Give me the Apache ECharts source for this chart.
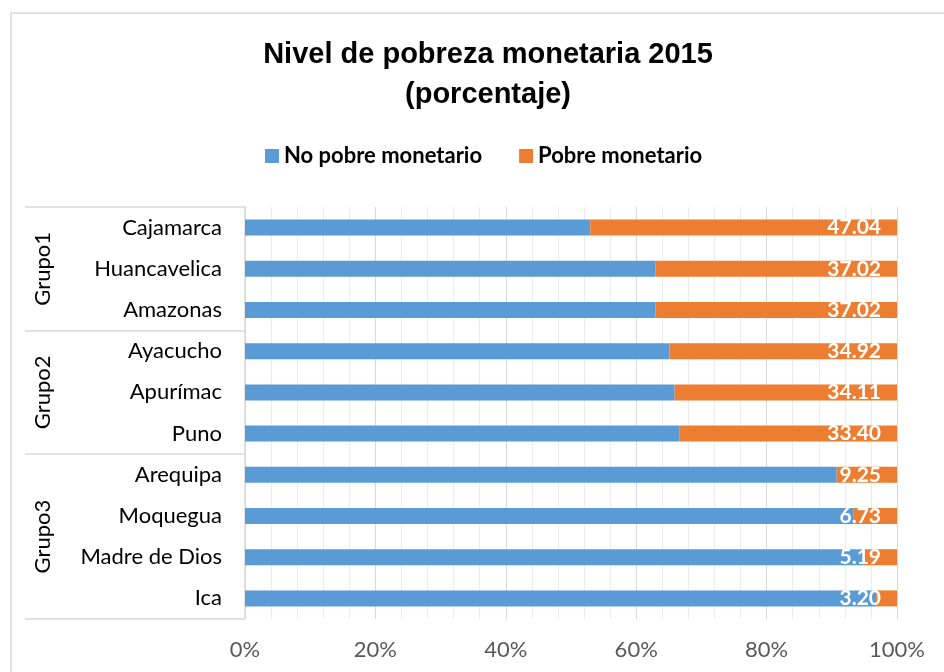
<!DOCTYPE html>
<html>
<head>
<meta charset="utf-8">
<script src="https://cdn.jsdelivr.net/npm/echarts@6/dist/echarts.min.js"></script>
<style>
  html, body { margin: 0; padding: 0; background: #fff; }
  #chart { width: 944px; height: 672px; }
</style>
</head>
<body>
<div id="chart"></div>
<script>
// data, top to bottom as in the picture
const regions = ["Cajamarca", "Huancavelica", "Amazonas", "Ayacucho", "Apurímac", "Puno",
                 "Arequipa", "Moquegua", "Madre de Dios", "Ica"];
const groups = ["Grupo1", "Grupo2", "Grupo3"];
const groupSizes = [3, 3, 4];
const noPobre = [52.96, 62.98, 62.98, 65.08, 65.89, 66.60, 90.75, 93.27, 94.81, 96.80];
const pobre = [47.04, 37.02, 37.02, 34.92, 34.11, 33.40, 9.25, 6.73, 5.19, 3.20];
const xTicks = [0, 20, 40, 60, 80, 100];

const font = "Lato, 'Open Sans', sans-serif";

// group axis: one slot per region so ticks fall on region boundaries
const groupData = [];
groups.forEach((g, i) => {
    for (let k = 0; k < groupSizes[i]; k++) groupData.push(g + "#" + k);
});

var chart = echarts.init(document.getElementById("chart"));

const option = {
    animation: false,
    title: {
        text: "Nivel de pobreza monetaria 2015\n(porcentaje)",
        left: 483,
        textAlign: "center",
        top: 30,
        textStyle: {
            fontFamily: "'Liberation Sans Narrow', 'Arial Narrow', 'Liberation Sans', sans-serif",
            fontSize: 29,
            fontWeight: "bold",
            color: "#000",
            lineHeight: 40
        }
    },
    legend: {
        data: ["No pobre monetario", "Pobre monetario"],
        top: 140,
        left: 260,
        icon: "rect",
        itemWidth: 14,
        itemHeight: 14,
        itemGap: 37,
        textStyle: { fontFamily: font, fontSize: 22, fontWeight: "bold", color: "#000" }
    },
    grid: { left: 245, right: 47, top: 207, bottom: 53 },
    xAxis: {
        type: "value",
        min: 0,
        max: 100,
        interval: 20,
        axisLine: { show: false },
        axisTick: { show: false },
        minorTick: { show: false, splitNumber: 5 },
        minorSplitLine: { show: true, lineStyle: { color: "#ececec", width: 1 } },
        splitLine: { lineStyle: { color: "#d9d9d9", width: 1 } },
        axisLabel: {
            formatter: v => (xTicks.includes(v) ? v + "%" : ""),
            fontFamily: font,
            fontSize: 22,
            color: "#595959",
            margin: 20
        }
    },
    yAxis: [
        {
            type: "category",
            data: regions,
            inverse: true,
            axisLine: { show: false },
            axisTick: { show: false },
            axisLabel: { fontFamily: font, fontSize: 22, color: "#000", margin: 23 }
        },
        {
            type: "category",
            data: groupData,
            inverse: true,
            position: "left",
            axisLine: { show: true, lineStyle: { color: "#d9d9d9", width: 1.5 } },
            axisTick: {
                show: true,
                length: 220,
                interval: (idx) => {
                    // boundaries between groups only
                    let acc = 0;
                    for (let i = 0; i < groupSizes.length; i++) {
                        if (idx === acc) return true;
                        acc += groupSizes[i];
                    }
                    return false;
                },
                lineStyle: { color: "#d9d9d9", width: 1.5 }
            },
            axisLabel: { show: false }
        }
    ],
    graphic: [
        {
            type: "rect",
            shape: { x: 11, y: 13, width: 1000, height: 700 },
            style: { fill: "none", stroke: "#d9d9d9", lineWidth: 1.5 },
            silent: true
        }
    ],
    series: [
        {
            name: "No pobre monetario",
            type: "bar",
            stack: "total",
            barWidth: 16,
            itemStyle: { color: "#5b9bd5" },
            data: noPobre
        },
        {
            name: "Pobre monetario",
            type: "bar",
            stack: "total",
            barWidth: 16,
            itemStyle: { color: "#ed7d31" },
            label: {
                show: true,
                position: "insideRight",
                distance: 16,
                color: "#fff",
                fontFamily: font,
                fontSize: 21,
                fontWeight: "bold",
                formatter: p => p.value.toFixed(2)
            },
            data: pobre
        }
    ]
};

chart.setOption(option);

// group names, placed through the category axis and rotated like the original
let start = 0;
const groupLabels = groups.map((g, i) => {
    const first = chart.convertToPixel({ yAxisIndex: 0 }, regions[start]);
    const last = chart.convertToPixel({ yAxisIndex: 0 }, regions[start + groupSizes[i] - 1]);
    start += groupSizes[i];
    return {
        type: "text",
        x: 43,
        y: (first + last) / 2,
        rotation: Math.PI / 2,
        style: {
            text: g,
            fontFamily: font,
            fontSize: 22,
            fill: "#000",
            align: "center",
            verticalAlign: "middle"
        },
        silent: true
    };
});
chart.setOption({ graphic: option.graphic.concat(groupLabels) });

window.addEventListener("resize", chart.resize);
</script>
</body>
</html>
